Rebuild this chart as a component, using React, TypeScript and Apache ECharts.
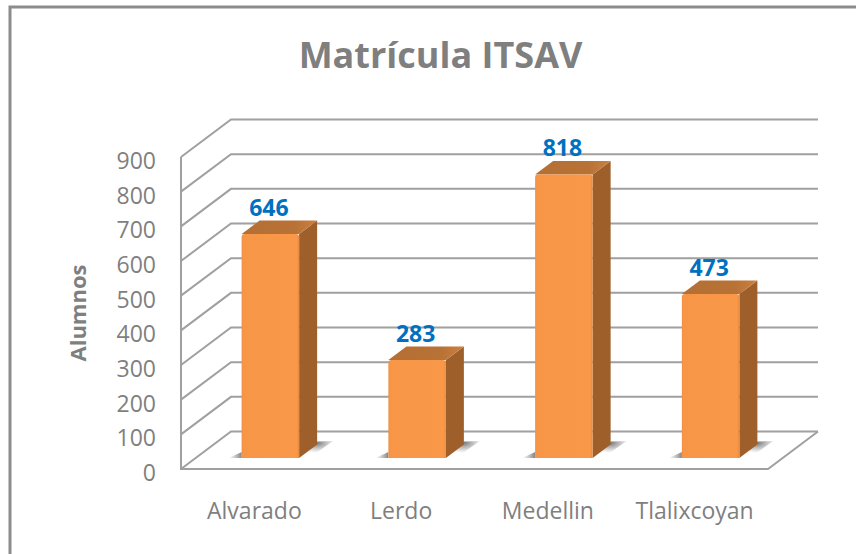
import React, { useEffect, useRef } from "react";
import * as echarts from "echarts";

const categories = ["Alvarado", "Lerdo", "Medellin", "Tlalixcoyan"];
const alumnos = [646, 283, 818, 473];
const ticks = [0, 100, 200, 300, 400, 500, 600, 700, 800, 900];

const GRID = { left: 181, right: 88, top: 157, bottom: 85 };
const DX = 50; // oblique depth of the box
const DY = 37.5;
const BAR_W = 57.5;
const BAR_OX = 16; // bar front offset from band centre
const BAR_OY = 11;
const BAR_DX = 18;
const BAR_DY = 13.5;
const LABEL_OX = -1.5;
const GREY = "#a0a0a0";
const TEXT = "#7f7f7f";
const FONT = "'Open Sans', sans-serif";

export default function App() {
  const ref = useRef<HTMLDivElement>(null);
  useEffect(() => {
    const chart = echarts.init(ref.current!, null, { renderer: "svg" });
    const wallItem = (params: any, api: any) => {
      const [, y] = api.coord([0, api.value(0)]);
      const cs = params.coordSys;
      const isZero = api.value(0) === 0;
      const lineStyle = { stroke: GREY, lineWidth: 2, fill: "none" };
      const children: any[] = [
        {
          type: "polyline",
          shape: {
            points: [
              [cs.x, y],
              [cs.x + DX, y - DY],
              [cs.x + cs.width + DX, y - DY],
            ],
          },
          style: lineStyle,
        },
      ];
      if (isZero) {
        children.push({
          type: "polyline",
          shape: {
            points: [
              [cs.x, cs.y],
              [cs.x, y],
              [cs.x + cs.width, y],
              [cs.x + cs.width + DX, y - DY],
            ],
          },
          style: lineStyle,
        });
      }
      return { type: "group", children };
    };
    const barItem = (_params: any, api: any) => {
      const [cx, y0] = api.coord([api.value(0), 0]);
      const [, y1] = api.coord([api.value(0), api.value(1)]);
      const xl = cx + BAR_OX - BAR_W / 2;
      const xr = xl + BAR_W;
      const yb = y0 - BAR_OY;
      const yt = y1 - BAR_OY;
      return {
        type: "group",
        children: [
          {
            type: "polygon",
            shape: {
              points: [
                [xr, yb],
                [xr + BAR_DX, yb - BAR_DY - 3],
                [xr + 34, yb - 17],
                [xr + 10, yb],
              ],
            },
            style: {
              fill: {
                type: "radial",
                x: 0.5,
                y: 0.1,
                r: 0.6,
                colorStops: [
                  { offset: 0, color: "rgba(105,105,105,0.95)" },
                  { offset: 1, color: "rgba(140,140,140,0)" },
                ],
              },
            },
          },
          {
            type: "polygon",
            shape: {
              points: [
                [xl - 13, yb],
                [xl, yb - 6],
                [xl, yb],
              ],
            },
            style: {
              fill: {
                type: "linear",
                x: 1,
                y: 0,
                x2: 0,
                y2: 0,
                colorStops: [
                  { offset: 0, color: "rgba(110,110,110,0.85)" },
                  { offset: 1, color: "rgba(140,140,140,0)" },
                ],
              },
            },
          },
          {
            type: "polygon",
            shape: {
              points: [
                [xr, yt],
                [xr + BAR_DX, yt - BAR_DY],
                [xr + BAR_DX, yb - BAR_DY],
                [xr, yb],
              ],
            },
            style: { fill: "#9e5f2b" },
          },
          {
            type: "polygon",
            shape: {
              points: [
                [xl, yt],
                [xl + BAR_DX, yt - BAR_DY],
                [xr + BAR_DX, yt - BAR_DY],
                [xr, yt],
              ],
            },
            style: {
              fill: {
                type: "linear",
                x: 0,
                y: 0,
                x2: 1,
                y2: 0,
                colorStops: [
                  { offset: 0, color: "#b46f35" },
                  { offset: 0.7, color: "#b87236" },
                  { offset: 1, color: "#cb8040" },
                ],
              },
            },
          },
          {
            type: "rect",
            shape: { x: xl, y: yt, width: BAR_W, height: yb - yt, r: [3, 3, 0, 0] },
            style: {
              fill: {
                type: "linear",
                x: 0,
                y: 0,
                x2: 1,
                y2: 0,
                colorStops: [
                  { offset: 0, color: "#f08f43" },
                  { offset: 0.03, color: "#f79646" },
                  { offset: 0.96, color: "#f99848" },
                  { offset: 1, color: "#e58a40" },
                ],
              },
            },
          },
          {
            type: "text",
            style: {
              x: cx + BAR_OX + LABEL_OX,
              y: yt - BAR_DY - 2,
              text: String(api.value(1)),
              align: "center",
              verticalAlign: "bottom",
              fill: "#0070c0",
              font: `bold 23px ${FONT}`,
            },
          },
        ],
      };
    };
    chart.setOption({
      animation: false,
      backgroundColor: "#ffffff",
      title: {
        text: "Matrícula ITSAV",
        left: 435.5,
        top: 31,
        textAlign: "center",
        textStyle: { color: TEXT, fontSize: 36, fontWeight: "bold", fontFamily: FONT },
      },
      grid: GRID,
      xAxis: {
        type: "category",
        data: categories,
        axisLine: { show: false },
        axisTick: { show: false },
        axisLabel: { color: TEXT, fontSize: 23, fontFamily: FONT, margin: 29, interval: 0, hideOverlap: false },
      },
      yAxis: {
        type: "value",
        min: 0,
        max: 900,
        interval: 100,
        name: "Alumnos",
        nameLocation: "middle",
        nameGap: 93,
        nameTextStyle: { color: TEXT, fontSize: 22, fontWeight: "bold", fontFamily: FONT },
        axisLine: { show: false },
        axisTick: { show: false },
        splitLine: { show: false },
        axisLabel: {
          color: TEXT,
          fontSize: 23,
          fontFamily: FONT,
          margin: 25,
          verticalAlign: "top",
          lineHeight: 6,
          formatter: (v: number) => String(v),
        },
      },
      series: [
        {
          type: "custom",
          coordinateSystem: "cartesian2d",
          renderItem: wallItem,
          data: ticks.map((t) => [t]),
          encode: { y: 0 },
          silent: true,
          clip: false,
          z: 1,
        },
        {
          type: "custom",
          coordinateSystem: "cartesian2d",
          renderItem: barItem,
          data: alumnos.map((v, i) => [i, v]),
          encode: { x: 0, y: 1 },
          clip: false,
          z: 2,
        },
      ],
      graphic: [
        {
          type: "polyline",
          shape: { points: [[10, 554], [10, 7], [856, 7]] },
          style: { stroke: "#8c8c8c", lineWidth: 3, fill: "none" },
          z: 0,
        },
      ],
    });
    return () => chart.dispose();
  }, []);
  return <div ref={ref} style={{ position: "fixed", left: 0, top: 0, width: 856, height: 554 }} />;
}
